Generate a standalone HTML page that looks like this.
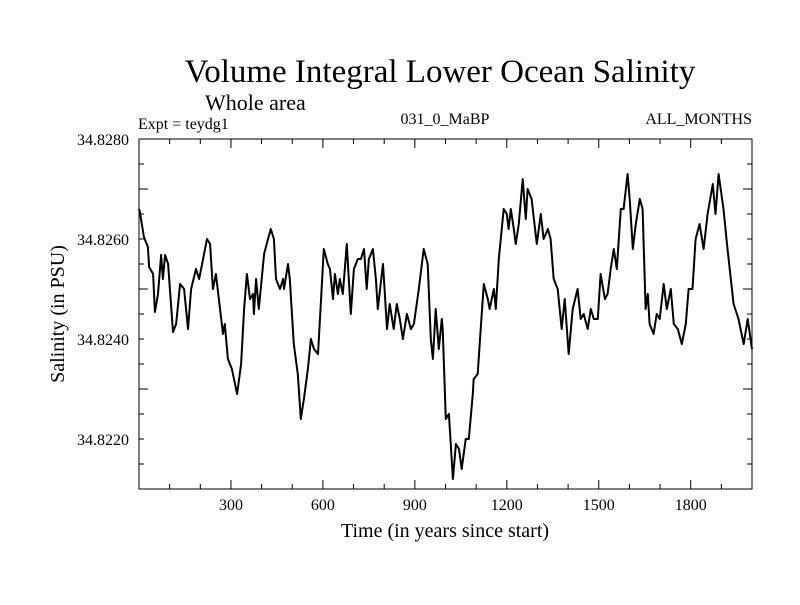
<!DOCTYPE html>
<html><head><meta charset="utf-8"><style>
html,body{margin:0;padding:0;background:#fff;}
svg text{font-family:"Liberation Serif",serif;fill:#000;}
</style></head><body>
<svg id="chart" width="800" height="600">
<text x="440" y="82" font-size="33" text-anchor="middle">Volume Integral Lower Ocean Salinity</text>
<text x="205" y="110" font-size="22">Whole area</text>
<text x="138" y="129" font-size="16">Expt = teydg1</text>
<text x="445" y="124" font-size="16" text-anchor="middle">031_0_MaBP</text>
<text x="752" y="124" font-size="16" text-anchor="end">ALL_MONTHS</text>
<rect x="139" y="139" width="613" height="350" fill="none" stroke="#000" stroke-width="1"/>
<g id="ticks"></g>
<path id="line" fill="none" stroke="#000" stroke-width="2" stroke-linejoin="round"/>
<text x="445" y="537" font-size="20" text-anchor="middle">Time (in years since start)</text>
<text transform="translate(64,314) rotate(-90)" font-size="20" text-anchor="middle">Salinity (in PSU)</text>
</svg>
<script>
const years=[0,3,16,29,33,46,52,62,72,78,85,95,111,121,134,147,160,170,186,196,209,222,232,241,251,274,280,290,303,320,333,343,352,362,372,375,382,391,408,421,430,440,447,460,470,473,486,492,505,518,528,538,551,561,571,584,593,603,616,623,633,639,649,655,665,678,691,701,714,724,734,743,750,763,773,779,796,809,818,831,841,851,861,874,887,897,913,929,942,952,959,968,978,988,991,1001,1011,1024,1034,1044,1053,1066,1076,1089,1092,1105,1115,1125,1138,1144,1158,1164,1174,1190,1200,1206,1213,1223,1229,1239,1252,1262,1268,1281,1298,1311,1320,1334,1343,1353,1366,1379,1389,1402,1415,1431,1441,1451,1464,1474,1484,1497,1506,1520,1529,1539,1549,1559,1572,1581,1594,1601,1611,1621,1634,1643,1653,1660,1666,1679,1689,1699,1712,1722,1735,1745,1758,1771,1784,1793,1806,1816,1829,1842,1855,1872,1881,1891,1907,1920,1940,1956,1973,1986,2002];
const salinity=[34.8266,34.82654,34.82604,34.82584,34.82544,34.8253,34.82454,34.8249,34.82568,34.8252,34.82568,34.8255,34.82414,34.8243,34.8251,34.8250,34.8242,34.8250,34.8254,34.8252,34.8256,34.8260,34.8259,34.8250,34.8253,34.8241,34.8243,34.8236,34.8234,34.8229,34.8235,34.8246,34.8253,34.8248,34.8249,34.8245,34.8252,34.8246,34.8257,34.8260,34.8262,34.8260,34.8252,34.8250,34.8252,34.8250,34.8255,34.8252,34.8239,34.8233,34.8224,34.8228,34.8234,34.8240,34.8238,34.8237,34.8247,34.8258,34.8255,34.8254,34.8248,34.8253,34.8249,34.8252,34.8249,34.8259,34.8245,34.8254,34.8256,34.8256,34.8258,34.8250,34.8256,34.8258,34.8252,34.8246,34.8255,34.8242,34.8247,34.8242,34.8247,34.8244,34.8240,34.8245,34.8242,34.8243,34.8250,34.8258,34.8255,34.8240,34.8236,34.8246,34.8238,34.8244,34.8242,34.8224,34.8225,34.8212,34.8219,34.8218,34.8214,34.8220,34.8220,34.8229,34.8232,34.8233,34.8242,34.8251,34.8248,34.8246,34.8250,34.8246,34.8256,34.8266,34.8265,34.8262,34.8266,34.8262,34.8259,34.8263,34.8272,34.8264,34.8270,34.8268,34.8259,34.8265,34.8260,34.8262,34.8260,34.8252,34.8250,34.8242,34.8248,34.8237,34.8246,34.8250,34.8244,34.8245,34.8242,34.8246,34.8244,34.8244,34.8253,34.8248,34.8249,34.8254,34.8258,34.8254,34.8266,34.8266,34.8273,34.8268,34.8258,34.8263,34.8268,34.8266,34.8246,34.8249,34.8243,34.8241,34.8245,34.8244,34.8251,34.8246,34.8250,34.8243,34.8242,34.8239,34.8243,34.8250,34.8250,34.8260,34.8263,34.8258,34.8265,34.8271,34.8265,34.8273,34.8266,34.8258,34.8247,34.8244,34.8239,34.8244,34.8238];
const xTickLabels=[300,600,900,1200,1500,1800];
const yTickLabels=["34.8220","34.8240","34.8260","34.8280"];

const X0=139,X1=752,Y0=139,Y1=489,XMIN=0,XMAX=2000,YMIN=34.821,YMAX=34.828;
const xs=v=>X0+(v-XMIN)/(XMAX-XMIN)*(X1-X0);
const ys=v=>Y1-(v-YMIN)/(YMAX-YMIN)*(Y1-Y0);
const NS="http://www.w3.org/2000/svg";
const g=document.getElementById('ticks');
function ln(x1,y1,x2,y2){const l=document.createElementNS(NS,'line');l.setAttribute('x1',x1);l.setAttribute('y1',y1);l.setAttribute('x2',x2);l.setAttribute('y2',y2);l.setAttribute('stroke','#000');l.setAttribute('stroke-width','1');


g.appendChild(l);}
for(let yr=100;yr<XMAX;yr+=100){const x=xs(yr);const major=yr%300===0;const len=major?9:5;ln(x,Y1,x,Y1-len);ln(x,Y0,x,Y0+len);}
xTickLabels.forEach(v=>{const t=document.createElementNS(NS,'text');t.setAttribute('x',xs(v));t.setAttribute('y',Y1+21);t.setAttribute('font-size','16');t.setAttribute('text-anchor','middle');t.textContent=v;


g.appendChild(t);});
for(let k=1;k<14;k++){const v=YMIN+k*0.0005;const y=ys(v);const major=(k%4===0);const len=major?9:5;ln(X0,y,X0+len,y);ln(X1,y,X1-len,y);}
yTickLabels.forEach(s=>{const t=document.createElementNS(NS,'text');t.setAttribute('x',X0-10);t.setAttribute('y',ys(parseFloat(s))+6);t.setAttribute('font-size','16');t.setAttribute('text-anchor','end');t.textContent=s;


g.appendChild(t);});
let d='';years.forEach((yr,i)=>{d+=(i?'L':'M')+Math.min(xs(yr),X1).toFixed(1)+','+ys(salinity[i]).toFixed(1);});
document.getElementById('line').setAttribute('d',d);
</script>
</body></html>
